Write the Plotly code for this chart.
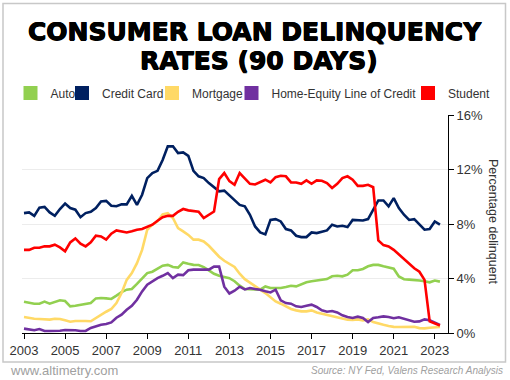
import plotly.graph_objects as go

# ---------------- data (quarterly, 2003Q1 .. 2023Q2) ----------------
start_year = 2003
auto = [2.3, 2.2, 2.15, 2.15, 2.3, 2.15, 2.25, 2.4, 2.35, 1.96, 2.0, 2.05, 2.1, 2.2, 2.54, 2.57, 2.54, 2.5, 2.74, 3.0,
        3.18, 3.23, 3.6, 4.0, 4.4, 4.5, 4.7, 4.94, 5.0, 4.84, 4.8, 5.18, 5.08, 5.0, 4.99, 4.84, 4.6, 4.35, 4.2, 4.1, 4.02, 3.8,
        3.47, 3.23, 3.23, 3.18, 3.18, 3.42, 3.3, 3.3, 3.3, 3.37, 3.47, 3.42, 3.57, 3.72, 3.8, 3.86, 3.91, 3.96, 4.16, 4.2,
        4.16, 4.28, 4.6, 4.6, 4.7, 4.9, 5.0, 5.0, 4.9, 4.8, 4.72, 4.15, 3.95, 3.92, 3.9, 3.85, 3.8, 3.72, 3.85, 3.77]
credit_card = [8.8, 8.85, 8.6, 9.2, 9.25, 8.85, 8.6, 9.1, 9.5, 9.17, 9.05, 8.5, 8.8, 8.9, 9.17, 9.66, 9.7, 9.34, 9.3, 9.44,
               9.44, 10.07, 9.4, 10.15, 11.37, 11.74, 11.9, 12.7, 13.7, 13.7, 13.2, 13.25, 13.0, 11.9, 11.5, 11.37, 11.0, 10.7, 10.4, 10.45, 10.1, 9.8,
               9.4, 9.3, 8.68, 7.82, 7.38, 7.24, 8.3, 8.36, 8.19, 7.63, 7.53, 7.14, 7.04, 7.04, 7.38, 7.33, 7.43, 7.53, 7.95, 7.82,
               7.87, 7.77, 8.3, 8.3, 8.26, 8.36, 9.05, 9.73, 9.73, 9.29, 9.9, 9.17, 8.68, 8.3, 8.36, 7.95, 7.58, 7.63, 8.19, 7.95]
mortgage = [1.17, 1.1, 1.05, 1.03, 0.98, 0.98, 1.05, 1.03, 0.93, 0.83, 0.88, 0.9, 0.88, 0.86, 1.1, 1.35, 1.56, 1.76, 2.2, 2.93,
            3.9, 4.4, 5.13, 6.1, 7.58, 7.95, 8.2, 8.7, 8.8, 8.44, 7.7, 7.46, 7.2, 6.85, 6.85, 6.72, 6.4, 6.0, 5.6, 5.3, 5.07, 4.85,
            4.35, 3.95, 3.7, 3.47, 3.18, 2.93, 2.64, 2.32, 2.15, 1.96, 1.76, 1.66, 1.59, 1.59, 1.66, 1.51, 1.42, 1.32, 1.22, 1.12,
            1.03, 0.98, 0.95, 1.0, 0.93, 1.0, 0.8, 0.68, 0.6, 0.52, 0.45, 0.44, 0.44, 0.44, 0.46, 0.36, 0.34, 0.38, 0.42, 0.44]
heloc = [0.32, 0.24, 0.2, 0.29, 0.15, 0.15, 0.15, 0.17, 0.22, 0.22, 0.2, 0.15, 0.15, 0.37, 0.49, 0.6, 0.66, 0.78, 1.12, 1.35,
         1.71, 2.0, 2.44, 3.05, 3.55, 3.8, 4.03, 4.2, 4.4, 4.03, 4.28, 4.25, 4.6, 4.65, 4.65, 4.65, 4.65, 4.87, 4.87, 3.4, 2.9, 3.1,
         3.4, 3.2, 3.3, 3.23, 3.18, 3.06, 2.98, 3.18, 2.4, 2.2, 2.15, 1.96, 1.91, 2.0, 2.08, 1.91, 1.66, 1.56, 1.61, 1.51,
         1.3, 1.17, 1.1, 1.2, 1.1, 0.8, 1.1, 1.15, 1.22, 1.17, 1.08, 1.15, 1.03, 0.93, 0.83, 0.85, 1.0, 0.93, 0.75, 0.6]
student = [6.1, 6.1, 6.26, 6.26, 6.36, 6.36, 6.48, 6.28, 6.0, 6.65, 6.94, 6.55, 6.36, 6.65, 7.14, 7.09, 6.85, 7.29, 7.53, 7.48,
           7.38, 7.46, 7.58, 7.63, 7.82, 7.95, 8.24, 8.5, 8.6, 8.6, 8.9, 9.1, 9.0, 8.95, 8.9, 8.43, 8.7, 8.92, 11.3, 11.74, 11.15, 10.88,
           11.74, 11.37, 10.95, 10.9, 11.05, 11.25, 11.05, 11.44, 11.54, 11.5, 11.05, 11.05, 10.95, 11.2, 10.95, 11.2, 11.17, 11.0, 10.64, 10.95,
           11.37, 11.5, 11.25, 10.8, 10.8, 10.88, 10.7, 6.8, 6.45, 6.35, 6.1, 5.75, 5.4, 5.05, 4.75, 4.5, 3.9, 0.85, 0.7, 0.55]

series_names = ["Auto", "Credit Card", "Mortgage", "Home-Equity Line of Credit", "Student"]
series_values = [auto, credit_card, mortgage, heloc, student]
series_colors = ["#92D050", "#002060", "#FFD966", "#7030A0", "#FF0000"]

x_tick_years = [2003, 2005, 2007, 2009, 2011, 2013, 2015, 2017, 2019, 2021, 2023]
x_tick_labels = [str(y) for y in x_tick_years]
y_tick_values = [0, 4, 8, 12, 16]
y_tick_labels = ["0%", "4%", "8%", "12%", "16%"]

quarters = [start_year + i / 4 for i in range(len(auto))]

# ---------------- layout geometry ----------------
WIDTH, HEIGHT = 510, 380
L, R, T, B = 22, 62, 115, 47
PW, PH = WIDTH - L - R, HEIGHT - T - B


def px(x):
    return (x - L) / PW


def py(y):
    return (HEIGHT - B - y) / PH


FONT = "Liberation Sans, Arial, sans-serif"
fig = go.Figure()

legend_ids = ["legend", "legend2", "legend3", "legend4", "legend5"]
square_centers = [32.5, 84, 174, 253.5, 430]

for name, vals, color in zip(series_names, series_values, series_colors):
    fig.add_trace(go.Scatter(x=quarters, y=vals, mode="lines", name=name,
                             line=dict(color=color, width=2.6), showlegend=False,
                             legendgroup=name, hoverinfo="skip"))
for name, color, lid in zip(series_names, series_colors, legend_ids):
    fig.add_trace(go.Scatter(x=[None], y=[None], mode="markers", name=name,
                             marker=dict(symbol="square", size=14, color=color),
                             showlegend=True, legend=lid, legendgroup=name))

legend_layout = {}
for lid, c in zip(legend_ids, square_centers):
    legend_layout[lid] = dict(
        x=(c - 22) / WIDTH, xref="container", xanchor="left",
        y=1 - 93 / HEIGHT, yref="container", yanchor="middle",
        orientation="h", bgcolor="rgba(0,0,0,0)", borderwidth=0,
        font=dict(family=FONT, size=12, color="#333333"),
        itemwidth=30, itemclick=False, itemdoubleclick=False,
    )

title_font = dict(family="DejaVu Sans, sans-serif", size=25, color="black", weight="bold",
                  shadow="0.5px 0 0 #000, -0.5px 0 0 #000, 0 0.5px 0 #000")

fig.update_layout(
    width=WIDTH, height=HEIGHT,
    margin=dict(l=L, r=R, t=T, b=B, pad=0, autoexpand=False),
    paper_bgcolor="white", plot_bgcolor="white",
    showlegend=True,
    **legend_layout,
    xaxis=dict(
        range=[start_year - 2 / 20.54, start_year + 424 / 20.54],
        tickvals=x_tick_years, ticktext=x_tick_labels,
        showgrid=False, zeroline=False,
        showline=True, linecolor="black", linewidth=1,
        ticks="outside", ticklen=5, tickcolor="black", tickwidth=1,
        tickfont=dict(family=FONT, size=13, color="#333333"),
        fixedrange=True,
    ),
    yaxis=dict(
        range=[0, 16], side="right",
        tickvals=y_tick_values, ticktext=y_tick_labels,
        showgrid=True, gridcolor="#ececec", gridwidth=1,
        zeroline=False,
        showline=True, linecolor="black", linewidth=1,
        ticks="outside", ticklen=5, tickcolor="black", tickwidth=1,
        tickfont=dict(family=FONT, size=13, color="#333333"),
        fixedrange=True,
    ),
    shapes=[dict(type="rect", xref="paper", yref="paper",
                 x0=px(3), x1=px(505.5), y0=py(362), y1=py(3.5),
                 line=dict(color="#c8c8c8", width=1.5), fillcolor="rgba(0,0,0,0)", layer="below")],
    annotations=[
        dict(text="CONSUMER LOAN DELINQUENCY", x=px(255), y=py(31), xref="paper", yref="paper",
             xanchor="center", yanchor="middle", showarrow=False, font=title_font),
        dict(text="RATES (90 DAYS)", x=px(259), y=py(61), xref="paper", yref="paper",
             xanchor="center", yanchor="middle", showarrow=False, font=title_font),
        dict(text="Percentage delinquent", x=px(493), y=py(222), xref="paper", yref="paper",
             xanchor="center", yanchor="middle", showarrow=False, textangle=90,
             font=dict(family=FONT, size=12.5, color="#333333")),
        dict(text="www.altimetry.com", x=px(8), y=py(370), xref="paper", yref="paper",
             xanchor="left", yanchor="middle", showarrow=False,
             font=dict(family=FONT, size=13, color="#a0a0a0")),
        dict(text="Source: NY Fed, Valens Research Analysis", x=px(505), y=py(370), xref="paper", yref="paper",
             xanchor="right", yanchor="middle", showarrow=False,
             font=dict(family=FONT, size=10, color="#a0a0a0", style="italic")),
    ],
)

fig.write_html("out.html", config={"displayModeBar": False},
               post_script="document.body.style.margin='0px';")
